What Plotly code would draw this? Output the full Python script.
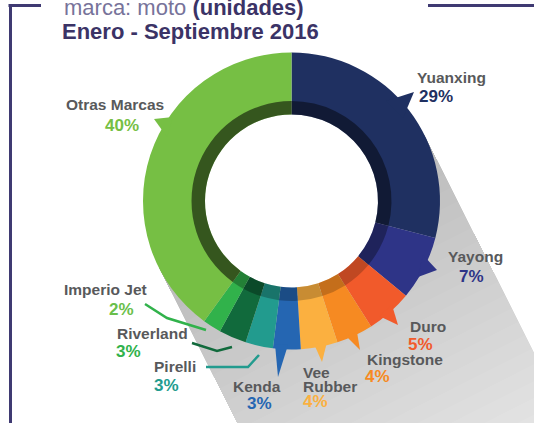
import numpy as np
import plotly.graph_objects as go

# ---------------- data ----------------
brands = ["Yuanxing", "Yayong", "Duro", "Kingstone", "Vee Rubber",
          "Kenda", "Pirelli", "Riverland", "Imperio Jet", "Otras Marcas"]
shares = [29, 7, 5, 4, 4, 3, 3, 3, 2, 40]
pct_labels = [f"{v}%" for v in shares]

title_line1 = "marca: moto"
title_unit = "(unidades)"
title_line2 = "Enero - Septiembre 2016"

# ---------------- style ----------------
slice_colors = ["#1f3061", "#2e3487", "#f15a2b", "#f68a22", "#fbb040",
                "#2566b2", "#229b8e", "#116a3c", "#31b24b", "#76bf44"]
band_alpha = [0.45, 0.32, 0.2, 0.2, 0.2, 0.25, 0.25, 0.3, 0.28, 0.55]
pct_colors = ["#1f3061", "#2e3487", "#f15a2b", "#f68a22", "#fbb040",
              "#2566b2", "#229b8e", "#31b24b", "#6abf4b", "#76bf44"]
name_color = "#58595b"
frame_color = "#3f3a72"

W, H = 534, 423
CX, CY = 291.5, 201.0
R_OUT, R_BAND, R_HOLE = 148.5, 100.0, 86.5

# label layout (pixel positions: left x, vertical centre)
label_pos = {
    "Yuanxing": ([(415, 77)], (417, 96)),
    "Yayong": ([(446, 256)], (457, 276)),
    "Duro": ([(408, 326)], (406, 344)),
    "Kingstone": ([(365, 359)], (363, 376.5)),
    "Vee Rubber": ([(301, 372), (301, 386)], (301, 401.5)),
    "Kenda": ([(231, 386)], (245, 403)),
    "Pirelli": ([(152, 366)], (152, 385)),
    "Riverland": ([(115, 333)], (114, 351)),
    "Imperio Jet": ([(62, 289)], (107, 309)),
    "Otras Marcas": ([(64, 104)], (103, 125.5)),
}

# callout pointers (decoration, pixel coords)
pointer_tris = {
    "Yuanxing": [(386, 101), (403, 118), (414, 92)],
    "Otras Marcas": [(173, 117), (167, 137), (154, 119)],
    "Yayong": [(423, 255), (418, 277), (437, 270)],
    "Duro": [(392, 305), (379, 316), (398, 325)],
    "Kingstone": [(357, 332), (346, 336), (360, 350)],
    "Vee Rubber": [(327, 342), (314, 344), (322, 362)],
    "Kenda": [(275, 344), (288, 345), (278, 377)],
}
pointer_lines = {
    "Imperio Jet": [(145, 304), (167, 318), (206, 330)],
    "Riverland": [(192, 343), (217, 351), (232, 347)],
    "Pirelli": [(206, 367), (248, 367), (259, 355)],
}


def px(x):
    return x / W


def py(y):
    return 1 - y / H


def path(points, close=True):
    s = "M " + " L ".join(f"{px(x):.5f},{py(y):.5f}" for x, y in points)
    return s + (" Z" if close else "")


fig = go.Figure()

dom_out = dict(x=[px(CX - R_OUT), px(CX + R_OUT)], y=[py(CY + R_OUT), py(CY - R_OUT)])
dom_band = dict(x=[px(CX - R_BAND), px(CX + R_BAND)], y=[py(CY + R_BAND), py(CY - R_BAND)])

fig.add_trace(go.Pie(
    labels=brands, values=shares, sort=False, direction="clockwise", rotation=0,
    hole=R_HOLE / R_OUT, domain=dom_out, textinfo="none", showlegend=False,
    marker=dict(colors=slice_colors, line=dict(width=0)),
    hoverinfo="label+percent",
))
fig.add_trace(go.Pie(
    labels=brands, values=shares, sort=False, direction="clockwise", rotation=0,
    hole=R_HOLE / R_BAND, domain=dom_band, textinfo="none", showlegend=False,
    marker=dict(colors=[f"rgba(0,0,0,{a})" for a in band_alpha], line=dict(width=0)),
    hoverinfo="skip",
))

shapes = []
# cast shadow (many faint layers for a soft fade)
d = np.array([0.45, 0.893])
d = d / np.linalg.norm(d)
n = np.array([d[1], -d[0]])
C = np.array([CX, CY])
T1 = C + R_OUT * n
T2 = C - R_OUT * n
for L in range(15, 520, 15):
    pts = [tuple(T1), tuple(T1 + L * d), tuple(T2 + L * d), tuple(T2)]
    shapes.append(dict(type="path", path=path(pts), xref="paper", yref="paper",
                       fillcolor="rgba(110,110,122,0.011)", line=dict(width=0), layer="below"))
# keep the hole white
rw = 95
shapes.append(dict(type="circle", xref="paper", yref="paper",
                   x0=px(CX - rw), x1=px(CX + rw), y0=py(CY + rw), y1=py(CY - rw),
                   fillcolor="white", line=dict(width=0), layer="below"))

# pointers
for b, pts in pointer_tris.items():
    col = slice_colors[brands.index(b)]
    shapes.append(dict(type="path", path=path(pts), xref="paper", yref="paper",
                       fillcolor=col, line=dict(width=0), layer="above"))
for b, pts in pointer_lines.items():
    col = slice_colors[brands.index(b)]
    shapes.append(dict(type="path", path=path(pts, close=False), xref="paper", yref="paper",
                       line=dict(color=col, width=2.5), layer="above"))

# frame
for x0, y0, x1, y1 in [(10.5, 4, 10.5, 430), (8.5, 5.4, 41, 5.4), (428, 5.4, 540, 5.4)]:
    shapes.append(dict(type="line", xref="paper", yref="paper",
                       x0=px(x0), y0=py(y0), x1=px(x1), y1=py(y1),
                       line=dict(color=frame_color, width=3), layer="above"))

annotations = []
FONT = "Liberation Sans, Arial, sans-serif"
annotations.append(dict(
    x=px(62), y=py(7.2), xref="paper", yref="paper", xanchor="left", yanchor="middle",
    showarrow=False,
    text=f"<span style='color:#77739a'>{title_line1}</span> <b>{title_unit}</b>",
    font=dict(family=FONT, size=22, color="#3b3366"),
))
annotations.append(dict(
    x=px(60), y=py(31.8), xref="paper", yref="paper", xanchor="left", yanchor="middle",
    showarrow=False, text=f"<b>{title_line2}</b>",
    font=dict(family=FONT, size=22, color="#3b3366"),
))

for i, b in enumerate(brands):
    name_pts, pct_pt = label_pos[b]
    lines = b.split(" ") if len(name_pts) > 1 else [b]
    for (x, y), t in zip(name_pts, lines):
        annotations.append(dict(x=px(x), y=py(y), xref="paper", yref="paper",
                                xanchor="left", yanchor="middle", showarrow=False,
                                text=f"<b>{t}</b>",
                                font=dict(family=FONT, size=15.5, color=name_color)))
    x, y = pct_pt
    annotations.append(dict(x=px(x), y=py(y), xref="paper", yref="paper",
                            xanchor="left", yanchor="middle", showarrow=False,
                            text=f"<b>{pct_labels[i]}</b>",
                            font=dict(family=FONT, size=17, color=pct_colors[i])))

fig.update_layout(
    width=W, height=H, margin=dict(l=0, r=0, t=0, b=0),
    paper_bgcolor="white", plot_bgcolor="white",
    shapes=shapes, annotations=annotations, showlegend=False,
)

fig.write_html("out.html", config={"displayModeBar": False},
               post_script="document.body.style.margin='0';document.body.style.overflow='hidden';")
